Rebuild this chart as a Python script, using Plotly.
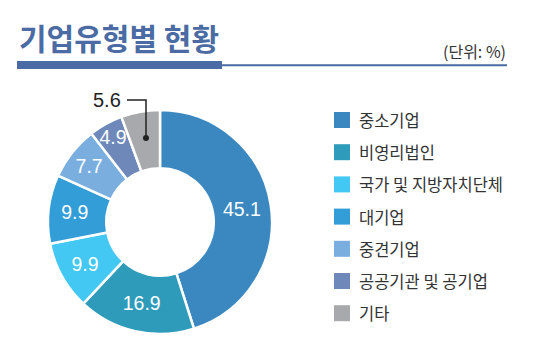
import plotly.graph_objects as go

labels = ["중소기업", "비영리법인", "국가 및 지방자치단체", "대기업", "중견기업", "공공기관 및 공기업", "기타"]
values = [45.1, 16.9, 9.9, 9.9, 7.7, 4.9, 5.6]
colors = ["#3B88C0", "#2F9BBB", "#42C8F2", "#339DD8", "#7AAEDF", "#6E89B9", "#A8A9AD"]
title_text = "기업유형별 현황"
unit_text = "(단위: %)"

# page body has an 8px default margin; size the figure to fill the rest
OFF = 8
W, H = 538 - OFF, 356 - OFF
KR = "Noto Sans CJK KR"
NUM = "Liberation Sans, Arial, sans-serif"

def px(x):
    return (x - OFF) / W

def py(y):
    return 1 - (y - OFF) / H

texts = [f"{v}" for v in values[:-1]] + [""]

fig = go.Figure(go.Pie(
    labels=labels, values=values, sort=False, direction="clockwise", rotation=0,
    hole=0.48,
    marker=dict(colors=colors, line=dict(color="white", width=2.5)),
    text=texts, textinfo="text", textposition="inside",
    insidetextorientation="horizontal",
    textfont=dict(family=NUM, size=19.5, color="white"),
    showlegend=False, hoverinfo="label+value",
    domain=dict(x=[px(48), px(272)], y=[py(334), py(110)]),
))

shapes = []
annotations = []

# title
annotations.append(dict(x=px(17), y=py(37), xref="paper", yref="paper", xanchor="left", yanchor="middle",
                        text=f"<b>{title_text}</b>", showarrow=False,
                        font=dict(family=KR, size=30, color="#4A6BA3")))
annotations.append(dict(x=px(508), y=py(51), xref="paper", yref="paper", xanchor="right", yanchor="middle",
                        text=unit_text, showarrow=False,
                        font=dict(family=KR, size=16, color="#333333")))
shapes.append(dict(type="rect", xref="paper", yref="paper", x0=px(17), x1=px(222), y0=py(69), y1=py(61),
                   fillcolor="#4A6BA3", line=dict(width=0)))
shapes.append(dict(type="rect", xref="paper", yref="paper", x0=px(222), x1=px(507), y0=py(66.3), y1=py(64.2),
                   fillcolor="#4A6BA3", line=dict(width=0)))

# leader for last slice
shapes.append(dict(type="path", xref="paper", yref="paper",
                   path=f"M {px(127)},{py(100)} L {px(146)},{py(100)} L {px(146)},{py(138)}",
                   line=dict(color="#222222", width=1.5)))
shapes.append(dict(type="circle", xref="paper", yref="paper", x0=px(143), x1=px(149), y0=py(141), y1=py(135),
                   fillcolor="#222222", line=dict(width=0)))
annotations.append(dict(x=px(123), y=py(100), xref="paper", yref="paper", xanchor="right", yanchor="middle",
                        text=f"{values[-1]}", showarrow=False,
                        font=dict(family=NUM, size=20, color="#222222")))

# legend
for i, (lab, col) in enumerate(zip(labels, colors)):
    yc = 120 + i * 32.2
    shapes.append(dict(type="rect", xref="paper", yref="paper", x0=px(334), x1=px(350), y0=py(yc + 8), y1=py(yc - 8),
                       fillcolor=col, line=dict(width=0)))
    annotations.append(dict(x=px(357), y=py(yc), xref="paper", yref="paper", xanchor="left", yanchor="middle",
                            text=lab, showarrow=False, font=dict(family=KR, size=16.5, color="#333333")))

fig.update_layout(width=W, height=H, margin=dict(l=0, r=0, t=0, b=0),
                  paper_bgcolor="white", plot_bgcolor="white",
                  uniformtext=dict(minsize=19.5, mode="show"),
                  shapes=shapes, annotations=annotations)
fig.write_html("out.html")
